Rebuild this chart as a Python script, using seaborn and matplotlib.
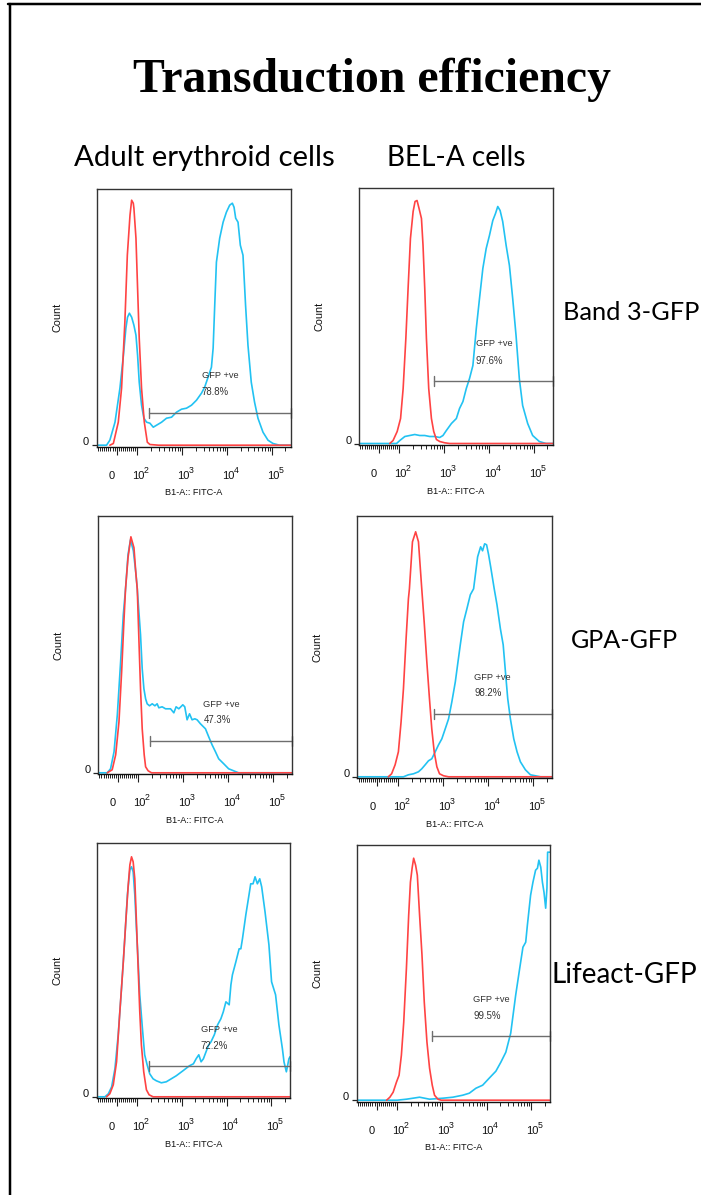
import matplotlib
matplotlib.use("Agg")
import matplotlib.pyplot as plt
from matplotlib.lines import Line2D
from matplotlib.ticker import NullFormatter
from matplotlib.transforms import blended_transform_factory
import numpy as np
import pandas as pd
import seaborn as sns

# ---------------- data (FITC intensity vs. count) ----------------
cell_types = ["Adult erythroid cells", "BEL-A cells"]
constructs = ["Band 3-GFP", "GPA-GFP", "Lifeact-GFP"]
gfp_positive_pct = [78.8, 97.6, 47.3, 98.2, 72.2, 99.5]
gate_low = [179, 590, 176, 634, 182, 612]
gate_high = 262143

xtick_values = [0, 100, 1000, 10000, 100000]
xtick_base = ["0", "10", "10", "10", "10"]
xtick_exp = ["", "2", "3", "4", "5"]

a1_ctrl_x = [-33, -16, 8, 24, 40, 52, 65, 73, 81, 84, 94, 102, 111, 125, 144, 168, 192, 300, 262143]
a1_ctrl_count = [0, 1.7, 23, 57, 123, 190, 230, 245, 242, 237, 207, 157, 107, 57, 23, 3, 0.7, 0, 0]
a1_gfp_x = [-97, -49, -33, -8, 16, 33, 45, 53, 62, 73, 84, 94, 102, 111, 125, 141, 162, 192, 228, 270,
            349, 450, 582, 751, 970, 1253, 1619, 2091, 2700, 3180, 3790, 4500, 4910, 5330, 5810, 6870,
            8190, 9690, 11460, 13150, 14350, 15600, 17600, 19800, 22700, 25900, 29300, 34700, 41100,
            48900, 63300, 81800, 105800, 148000, 262143]
a1_gfp_count = [0, 0, 5, 23, 57, 90, 117, 128, 132, 128, 120, 110, 90, 63, 40, 27, 23, 22, 18, 20,
                23, 27, 28, 33, 36, 37, 40, 45, 52, 58, 68, 78, 97, 140, 183, 207,
                223, 233, 240, 242, 238, 227, 223, 200, 190, 140, 100, 63, 43,
                27, 13, 5, 1.7, 0, 0]

b1_ctrl_x = [53, 69, 89, 106, 121, 139, 156, 176, 202, 223, 247, 274, 310, 336, 367, 400, 450, 517,
             582, 668, 791, 1024, 1320, 262143]
b1_ctrl_count = [0, 3, 12, 25, 55, 105, 155, 205, 232, 242, 243, 235, 225, 198, 155, 105, 55, 25,
                 12, 4, 2, 0.7, 0, 0]
b1_gfp_x = [-97, 86, 102, 132, 170, 220, 284, 367, 473, 612, 791, 936, 1113, 1444, 1862, 2190, 2610,
            3100, 3660, 4350, 5180, 6110, 7250, 8610, 10180, 12090, 13890, 15600, 17600, 20100, 24000,
            28400, 33600, 39900, 47200, 56000, 72500, 93600, 131600, 186500, 262143]
b1_gfp_count = [0, 0, 3, 7, 8, 9, 8, 8, 7, 7, 6, 8, 13, 20, 25, 35, 42,
                55, 65, 78, 115, 145, 175, 195, 208, 223, 230, 237, 233, 222, 198,
                178, 145, 108, 65, 38, 20, 8, 2, 0, 0]

a2_ctrl_x = [-52, -28, -11, 5, 18, 29, 37, 49, 63, 78, 87, 94, 102, 111, 121, 134, 144, 164, 195, 262143]
a2_ctrl_count = [0, 3, 18, 51, 101, 151, 184, 215, 236, 225, 200, 184, 134, 84, 44, 18, 6, 2, 0, 0]
a2_gfp_x = [-97, -52, -36, -19, -3, 13, 26, 37, 49, 61, 75, 87, 94, 111, 121, 132, 144, 156, 176, 202,
            232, 260, 284, 336, 400, 517, 612, 688, 791, 970, 1072, 1209, 1370, 1560, 1798, 2020, 2398,
            3100, 3660, 4350, 5180, 6110, 7920, 10180, 13150, 16960, 262143]
a2_gfp_count = [0, 0, 4, 21, 58, 111, 158, 184, 218, 233, 222, 200, 184, 138, 104, 84, 74, 69, 67, 69,
                67, 69, 65, 66, 64, 64, 60, 66, 64, 68, 66, 53, 59, 53, 54, 53, 49,
                44, 36, 28, 21, 14, 9, 4, 2, 0, 0]

b2_ctrl_x = [53, 69, 86, 102, 117, 132, 151, 170, 179, 209, 246, 284, 336, 380, 435, 498, 560, 634,
             726, 832, 1024, 1320, 262143]
b2_ctrl_count = [0, 3, 12, 25, 55, 88, 138, 178, 188, 235, 245, 235, 188, 155, 115, 78, 48, 25,
                 10, 3, 1, 0, 0]
b2_gfp_x = [-97, 132, 170, 220, 284, 336, 400, 473, 560, 668, 791, 936, 1113, 1320, 1560, 1862, 2090,
            2398, 2840, 3360, 4000, 4730, 5810, 6770, 7470, 8310, 9180, 10180, 11300, 13540, 15600,
            18560, 21400, 24000, 27000, 30900, 36700, 43400, 51500, 66500, 86000, 111500, 144600, 262143]
b2_gfp_count = [0, 0, 2, 3, 5, 8, 12, 16, 18, 25, 32, 38, 48, 58, 75, 95, 112,
                132, 155, 168, 182, 188, 220, 230, 226, 233, 232, 222, 210, 188, 172,
                148, 132, 105, 78, 58, 38, 25, 15, 7, 2, 1, 0, 0]

a3_ctrl_x = [-49, -33, -16, 0, 16, 33, 45, 57, 65, 73, 81, 89, 97, 106, 115, 125, 141, 162, 186, 228, 262143]
a3_ctrl_count = [0, 3, 12, 35, 85, 135, 175, 212, 232, 240, 235, 218, 175, 128, 85, 52, 25, 7, 2, 0, 0]
a3_gfp_x = [-97, -57, -40, -24, -8, 8, 24, 40, 53, 65, 73, 81, 89, 97, 106, 115, 132, 148, 168, 192,
            228, 270, 349, 450, 582, 751, 1060, 1480, 1820, 2090, 2398, 2700, 3040, 3480, 4000, 4500,
            5330, 6320, 7470, 8470, 9690, 11460, 12530, 13540, 16170, 19130, 20890, 22700, 27000,
            31800, 34700, 39100, 43400, 48900, 55200, 61000, 72500, 88600, 101500, 124800, 148000,
            177400, 192400, 217400, 228800, 248000, 262143]
a3_gfp_count = [0, 0, 3, 10, 28, 62, 108, 158, 202, 227, 230, 225, 202, 168, 135, 102, 68, 42, 32, 23,
                18, 16, 14, 15, 18, 21, 26, 31, 33, 38, 42, 35, 38, 45, 52, 55,
                62, 72, 78, 85, 95, 92, 112, 122, 135, 148, 148, 158, 182,
                202, 213, 213, 220, 213, 218, 210, 185, 152, 115, 102, 72,
                48, 35, 25, 30, 38, 40]

b3_ctrl_x = [49, 65, 81, 97, 111, 125, 141, 162, 182, 199, 217, 235, 260, 284, 319, 361, 406, 466,
             533, 612, 688, 819, 970, 262143]
b3_ctrl_count = [0, 3, 8, 18, 25, 45, 78, 132, 185, 218, 232, 242, 235, 225, 185, 145, 98, 58,
                 32, 15, 5, 1, 0, 0]
b3_gfp_x = [-97, 100, 162, 228, 319, 412, 533, 1060, 1767, 2940, 4120, 5810, 8190, 11460, 16170,
            20890, 27000, 34700, 44800, 55200, 65100, 75100, 81800, 96600, 109000, 124800, 137500,
            148000, 163000, 177400, 192400, 209900, 224000, 232000, 248000, 262143]
b3_gfp_count = [0, 0, 1, 2, 3, 2, 1, 2, 3, 5, 7, 12, 15, 22, 29,
                38, 48, 67, 105, 132, 153, 158, 175, 205, 218, 230, 232,
                240, 233, 218, 208, 192, 212, 248, 248, 248]

ctrl_series = [(a1_ctrl_x, a1_ctrl_count), (b1_ctrl_x, b1_ctrl_count),
               (a2_ctrl_x, a2_ctrl_count), (b2_ctrl_x, b2_ctrl_count),
               (a3_ctrl_x, a3_ctrl_count), (b3_ctrl_x, b3_ctrl_count)]
gfp_series = [(a1_gfp_x, a1_gfp_count), (b1_gfp_x, b1_gfp_count),
              (a2_gfp_x, a2_gfp_count), (b2_gfp_x, b2_gfp_count),
              (a3_gfp_x, a3_gfp_count), (b3_gfp_x, b3_gfp_count)]

# ---------------- layout / style ----------------
W, H = 701, 1195
PX = 72 / 100.0  # points per pixel at dpi 100

panel_px = [(96.7, 189, 290.7, 446.7), (359, 188, 552.7, 445),
            (98, 516, 292, 774.3), (357.3, 516, 552.3, 778.3),
            (96.7, 843.3, 290, 1098.3), (356.7, 845, 550, 1101.7)]
label_pos = [(0.541, 0.275, 0.213, 0.132), (0.602, 0.393, 0.328, 0.25),
             (0.543, 0.271, 0.210, 0.127), (0.600, 0.386, 0.324, 0.244),
             (0.538, 0.268, 0.205, 0.127), (0.603, 0.399, 0.335, 0.257)]

sns.set_theme(style="white")
plt.rcParams['font.family'] = ['Liberation Sans', 'DejaVu Sans']
NARROW = ['Liberation Sans Narrow', 'Liberation Sans', 'DejaVu Sans']
RED = '#ff4343'
BLUE = '#22c2f2'
GATE = '#6e6e6e'

fig = plt.figure(figsize=(W / 100, H / 100), dpi=100)
fig.patch.set_facecolor('white')

minor_ticks = ([-90, -80, -70, -60, -50, -40, -30, -20, -10, 10, 20, 30, 40, 50, 60, 70, 80, 90]
               + [m * 10 ** k for k in (2, 3, 4) for m in range(2, 10)] + [200000])

for i in range(6):
    l, t, r, b = panel_px[i]
    hpx = b - t
    ax = fig.add_axes([l / W, 1 - b / H, (r - l) / W, hpx / H])
    gx, gy = gfp_series[i]
    cx, cy = ctrl_series[i]
    sns.lineplot(x=gx, y=gy, ax=ax, color=BLUE, lw=1.2, estimator=None, sort=False)
    sns.lineplot(x=cx, y=cy, ax=ax, color=RED, lw=1.2, estimator=None, sort=False)
    ax.set_xscale('symlog', linthresh=100, linscale=0.412)
    ax.set_xlim(-97, 262143)
    ax.set_ylim(-1.5, hpx - 1.5)
    ax.set_xlabel('')
    ax.set_ylabel('')
    ax.set_xticks(xtick_values)
    ax.set_xticks(minor_ticks, minor=True)
    ax.set_xticklabels([])
    ax.xaxis.set_minor_formatter(NullFormatter())
    ax.set_yticks([0])
    ax.set_yticklabels([])
    ax.tick_params(axis='x', which='major', bottom=True, direction='out', length=8 * PX,
                   width=0.8, color='#222222')
    ax.tick_params(axis='x', which='minor', bottom=True, direction='out', length=4 * PX,
                   width=0.7, color='#222222')
    ax.tick_params(axis='y', which='major', left=True, direction='out', length=5 * PX,
                   width=0.9, color='#222222')
    for s in ax.spines.values():
        s.set_color('#333333')
        s.set_linewidth(1.0)
    ax.spines['bottom'].set_color('#111111')

    # tick labels
    for v, base, ex in zip(xtick_values, xtick_base, xtick_exp):
        dx = -5 if ex == '' else 1
        ax.annotate(base, xy=(v, 0), xycoords=('data', 'axes fraction'),
                    xytext=(dx * PX, -32 * PX), textcoords='offset points',
                    ha='center', va='baseline', fontsize=8, family=NARROW,
                    color='#111111', annotation_clip=False)
        if ex:
            ax.annotate(ex, xy=(v, 0), xycoords=('data', 'axes fraction'),
                        xytext=(6.5 * PX, -26 * PX), textcoords='offset points',
                        ha='left', va='baseline', fontsize=6.3, family=NARROW,
                        color='#111111', annotation_clip=False)
    ax.annotate('0', xy=(0, 0), xycoords=('axes fraction', 'data'),
                xytext=(-10.7 * PX, 0), textcoords='offset points',
                ha='center', va='baseline', fontsize=8, family=NARROW, color='#111111',
                annotation_clip=False)
    ax.annotate('B1-A:: FITC-A', xy=(0.5, 0), xycoords='axes fraction',
                xytext=(0, -46 * PX), textcoords='offset points', ha='center', va='center',
                fontsize=6.6, family=NARROW, color='#111111', annotation_clip=False)
    ax.annotate('Count', xy=(0, 0.5), xycoords='axes fraction',
                xytext=(-39.4 * PX, 0), textcoords='offset points', ha='center', va='center',
                rotation=90, fontsize=7.8, color='#111111', annotation_clip=False)

    # gate
    fx, fy1, fy2, gyf = label_pos[i]
    trans = blended_transform_factory(ax.transData, ax.transAxes)
    cap = 5.0 / hpx
    ax.plot([gate_low[i], gate_high], [gyf, gyf], transform=trans, color=GATE, lw=1.0, clip_on=False)
    for gxv in (gate_low[i], gate_high):
        ax.plot([gxv, gxv], [gyf - cap, gyf + cap], transform=trans, color=GATE, lw=1.0,
                clip_on=False)
    ax.text(fx, fy1, 'GFP +ve', transform=ax.transAxes, ha='left', va='center',
            fontsize=6.7, family=NARROW, color='#333333')
    ax.text(fx, fy2, f'{gfp_positive_pct[i]:.1f}%', transform=ax.transAxes, ha='left',
            va='center', fontsize=6.9, family=NARROW, color='#333333')

# ---------------- headings ----------------
renderer = fig.canvas.get_renderer()


def fit_text(s, x0, x1, baseline, family, weight='normal', size=20):
    t = fig.text((x0 + x1) / 2 / W, 1 - baseline / H, s, ha='center', va='baseline',
                 fontsize=size, family=family, weight=weight, color='black')
    w = t.get_window_extent(renderer=renderer).width
    t.set_fontsize(size * (x1 - x0) / w)
    return t


fit_text('Transduction efficiency', 133, 611, 92, ['Liberation Serif', 'DejaVu Serif'], weight='bold')
fit_text(cell_types[0], 74, 335, 166, ['Lato', 'DejaVu Sans'])
fit_text(cell_types[1], 387, 526, 166, ['Lato', 'DejaVu Sans'])
fit_text(constructs[0], 563, 699, 320, ['Lato', 'DejaVu Sans'])
fit_text(constructs[1], 571, 678, 648, ['Lato', 'DejaVu Sans'])
fit_text(constructs[2], 551, 697, 983, ['Lato', 'DejaVu Sans'])

# slide border (left and top edges)
fig.add_artist(Line2D([9.5 / W, 9.5 / W], [0, 1 - 3.7 / H], transform=fig.transFigure,
                      color='black', lw=2.5 * PX))
fig.add_artist(Line2D([8.3 / W, 1], [1 - 3.7 / H, 1 - 3.7 / H], transform=fig.transFigure,
                      color='black', lw=2.5 * PX))

fig.savefig('out.png', dpi=100)
